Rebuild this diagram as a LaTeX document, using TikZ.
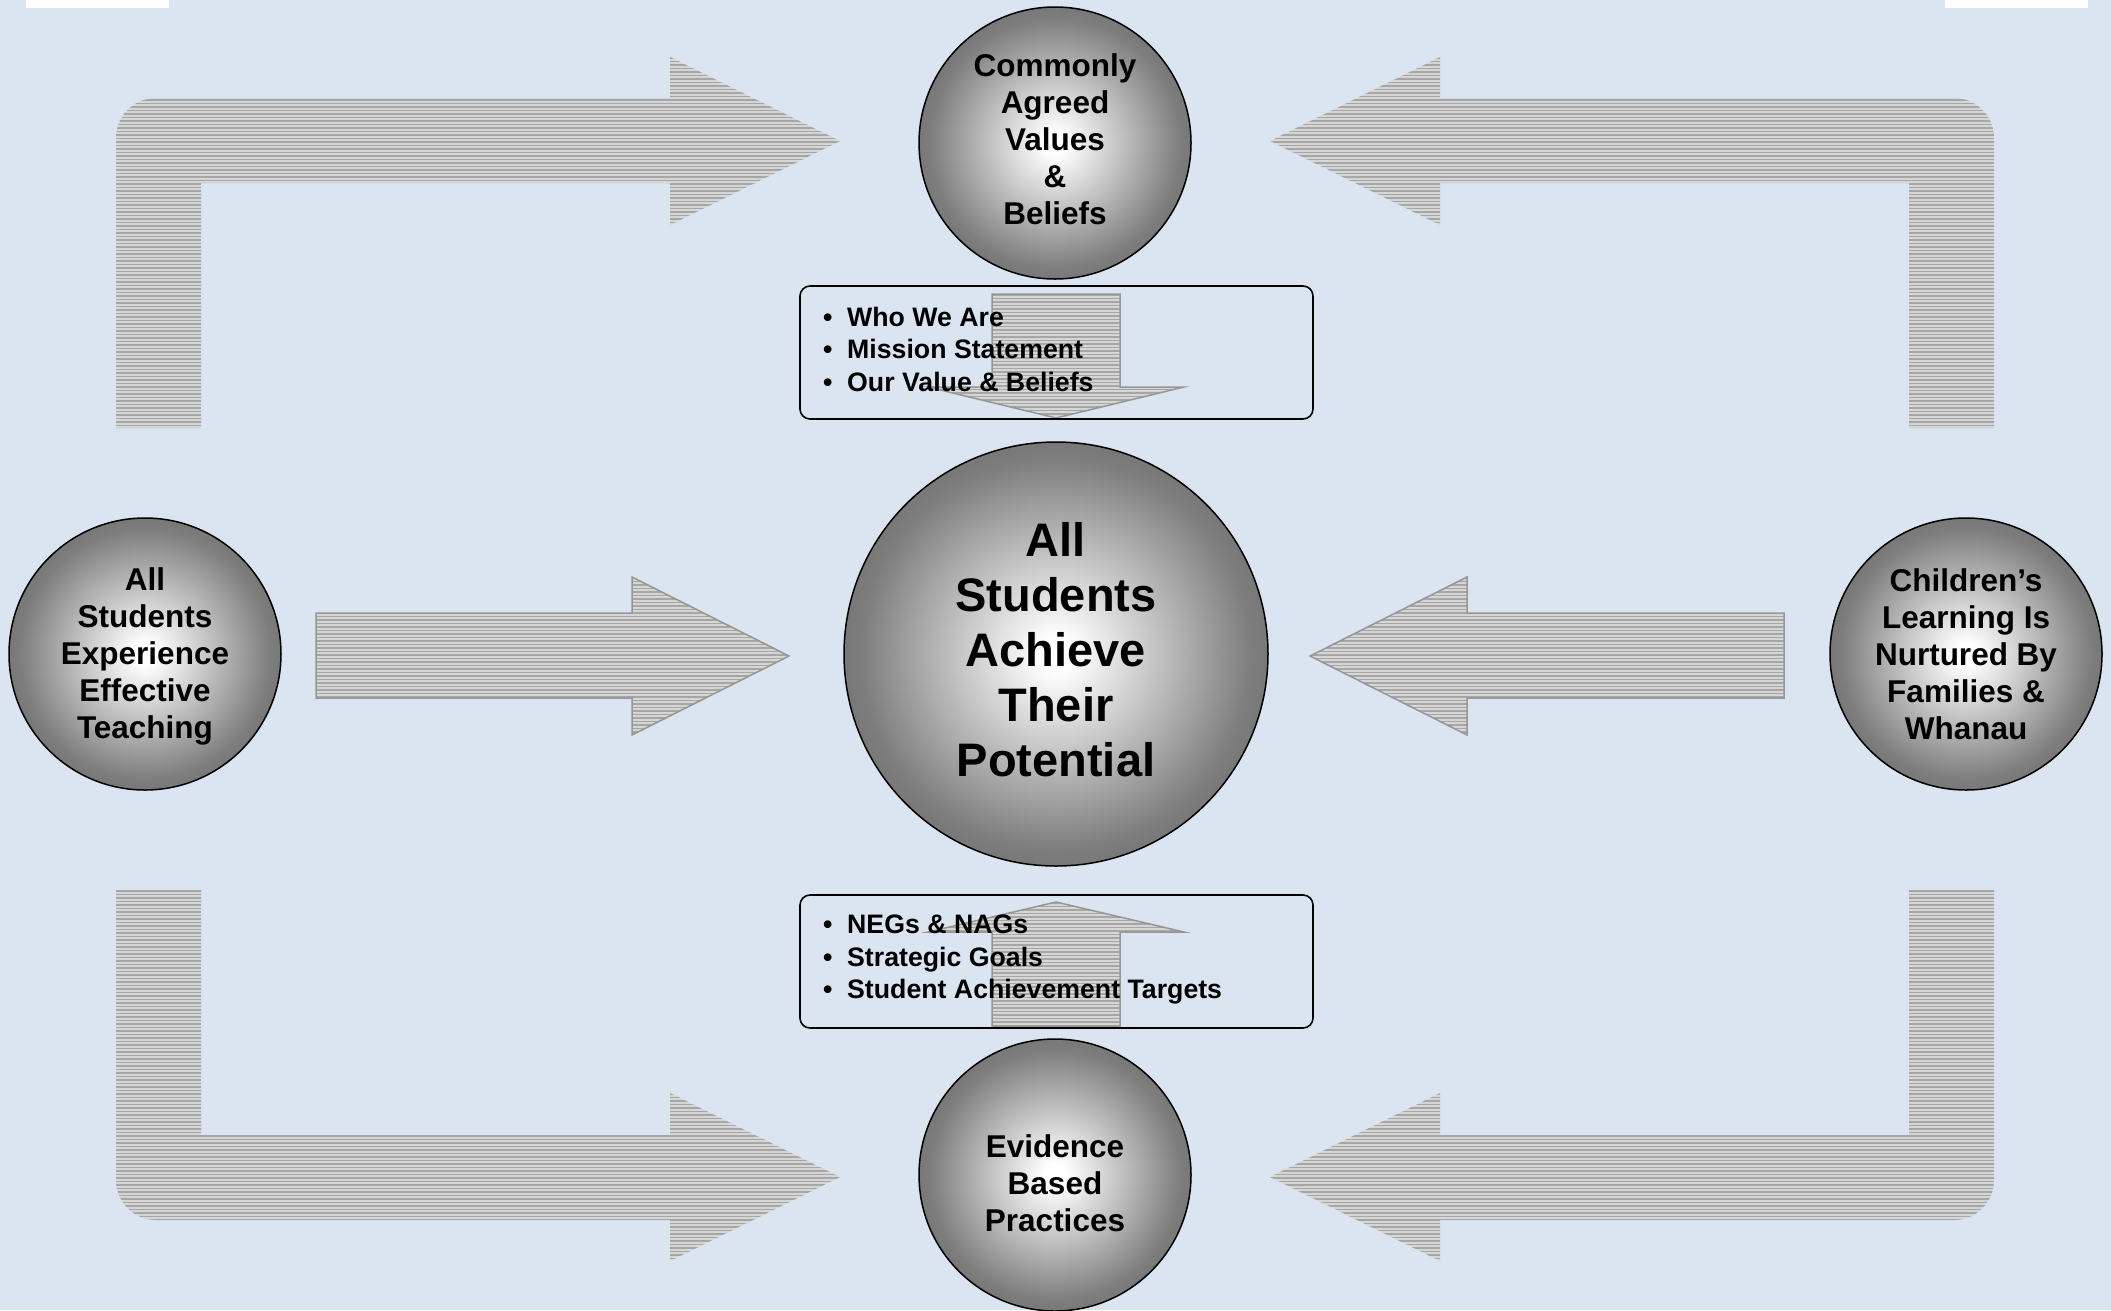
\documentclass[tikz,border=0pt]{standalone}
\usepackage{fontspec}
\setmainfont{Liberation Sans}

\definecolor{pagebg}{RGB}{219,229,241}
\definecolor{stripelight}{RGB}{214,214,214}
\definecolor{stripedark}{RGB}{166,166,166}
\definecolor{arrowedge}{RGB}{150,150,150}
\definecolor{orbedge}{RGB}{120,120,120}

% white centre fading to grey at the rim
\pgfdeclareradialshading{orb}{\pgfpoint{0bp}{0bp}}{%
  color(0bp)=(white); color(2bp)=(white);
  color(23bp)=(orbedge!96!white); color(25bp)=(orbedge); color(50bp)=(orbedge)}

% fill a closed path with fine horizontal stripes
% #1 path, #2 top y, #3 bottom y
\newcommand\stripedshape[3]{%
  \begin{scope}
    \clip #1;
    \fill[stripelight] (0,#2) rectangle (2111,#3);
    \pgfmathsetmacro\ysecond{#2+3.5}
    \foreach \yy in {#2,\ysecond,...,#3}{%
      \fill[stripedark] (0,\yy) rectangle (2111,\yy+1.75);}
  \end{scope}}

\tikzset{
  orb/.style={circle, draw=black, line width=1.5pt, shading=orb, inner sep=0pt},
  orbtext/.style={align=center, inner sep=0pt,
    font=\fontsize{31.5}{37}\selectfont\bfseries},
  hubtext/.style={align=center, inner sep=0pt,
    font=\fontsize{47}{55}\selectfont\bfseries},
  listbox/.style={draw=black, line width=1.6pt, rounded corners=10pt},
  listtext/.style={align=left, inner sep=0pt, anchor=north west,
    font=\fontsize{26.7}{32.5}\selectfont\bfseries},
  arrowline/.style={draw=arrowedge, line width=1.5pt, line join=miter},
}
\newcommand\bul{\makebox[24pt][l]{\textbullet}}

\begin{document}
\begin{tikzpicture}[x=1pt,y=-1pt]
  \useasboundingbox (0,0) rectangle (2111,1310);
  \fill[pagebg] (0,0) rectangle (2111,1310);
  \fill[white] (26,0) rectangle (169,8);
  \fill[white] (1945,0) rectangle (2088,8);

  % bent arrows at the four corners
  \stripedshape{(116,428) -- (116,138) .. controls (116,116) and (134,98) .. (156,98)
    -- (670,98) -- (670,57) -- (840,141) -- (670,225) -- (670,183) -- (201,183)
    -- (201,428) -- cycle}{57}{428}
  \stripedshape{(1994,428) -- (1994,138) .. controls (1994,116) and (1976,98) .. (1954,98)
    -- (1440,98) -- (1440,57) -- (1270,141) -- (1440,225) -- (1440,183) -- (1909,183)
    -- (1909,428) -- cycle}{57}{428}
  \stripedshape{(116,890) -- (116,1180) .. controls (116,1202) and (134,1220) .. (156,1220)
    -- (670,1220) -- (670,1261) -- (840,1177) -- (670,1093) -- (670,1135) -- (201,1135)
    -- (201,890) -- cycle}{890}{1262}
  \stripedshape{(1994,890) -- (1994,1180) .. controls (1994,1202) and (1976,1220) .. (1954,1220)
    -- (1440,1220) -- (1440,1261) -- (1270,1177) -- (1440,1093) -- (1440,1135) -- (1909,1135)
    -- (1909,890) -- cycle}{890}{1262}

  % arrows pointing into the centre from the sides
  \def\arrowW{(316,613) -- (632,613) -- (632,577) -- (789,656) -- (632,735) -- (632,698) -- (316,698) -- cycle}
  \def\arrowE{(1784,613) -- (1467,613) -- (1467,577) -- (1310,656) -- (1467,735) -- (1467,698) -- (1784,698) -- cycle}
  \stripedshape{\arrowW}{577}{735}
  \draw[arrowline] \arrowW;
  \stripedshape{\arrowE}{577}{735}
  \draw[arrowline] \arrowE;

  % arrows inside the two list boxes
  \def\arrowS{(992,294) -- (1120,294) -- (1120,387) -- (1184,387) -- (1056,418) -- (928,387) -- (992,387) -- cycle}
  \def\arrowN{(992,1026) -- (1120,1026) -- (1120,932) -- (1184,932) -- (1056,902) -- (928,932) -- (992,932) -- cycle}
  \stripedshape{\arrowS}{294}{418}
  \draw[arrowline] \arrowS;
  \stripedshape{\arrowN}{902}{1026}
  \draw[arrowline] \arrowN;

  % list boxes
  \draw[listbox] (800,286) rectangle (1313,419);
  \draw[listbox] (800,895) rectangle (1313,1028);
  \node[listtext] (toplist) at (823,306.7)
    {\bul Who We Are\\\bul Mission Statement\\\bul Our Value \& Beliefs};
  \node[listtext] (botlist) at (823,914.7)
    {\bul NEGs \& NAGs\\\bul Strategic Goals\\\bul Student Achievement Targets};

  % circles
  \node[orb, minimum size=424pt] (hub) at (1056,654) {};
  \node[orb, minimum size=272pt] (values) at (1055,143) {};
  \node[orb, minimum size=272pt] (evidence) at (1055,1175) {};
  \node[orb, minimum size=272pt] (teaching) at (145,654) {};
  \node[orb, minimum size=272pt] (whanau) at (1966,654) {};

  \node[hubtext] (hubtxt) at (1056,650) {All\\Students\\Achieve\\Their\\Potential};
  \node[orbtext] (valuestxt) at (1055,139) {Commonly\\Agreed\\Values\\\&\\Beliefs};
  \node[orbtext] (evidencetxt) at (1055,1183) {Evidence\\Based\\Practices};
  \node[orbtext] (teachingtxt) at (145,656) {All\\Students\\Experience\\Effective\\Teaching};
  \node[orbtext] (whanautxt) at (1966,654) {Children’s\\Learning Is\\Nurtured By\\Families \&\\Whanau};
\end{tikzpicture}
\end{document}
